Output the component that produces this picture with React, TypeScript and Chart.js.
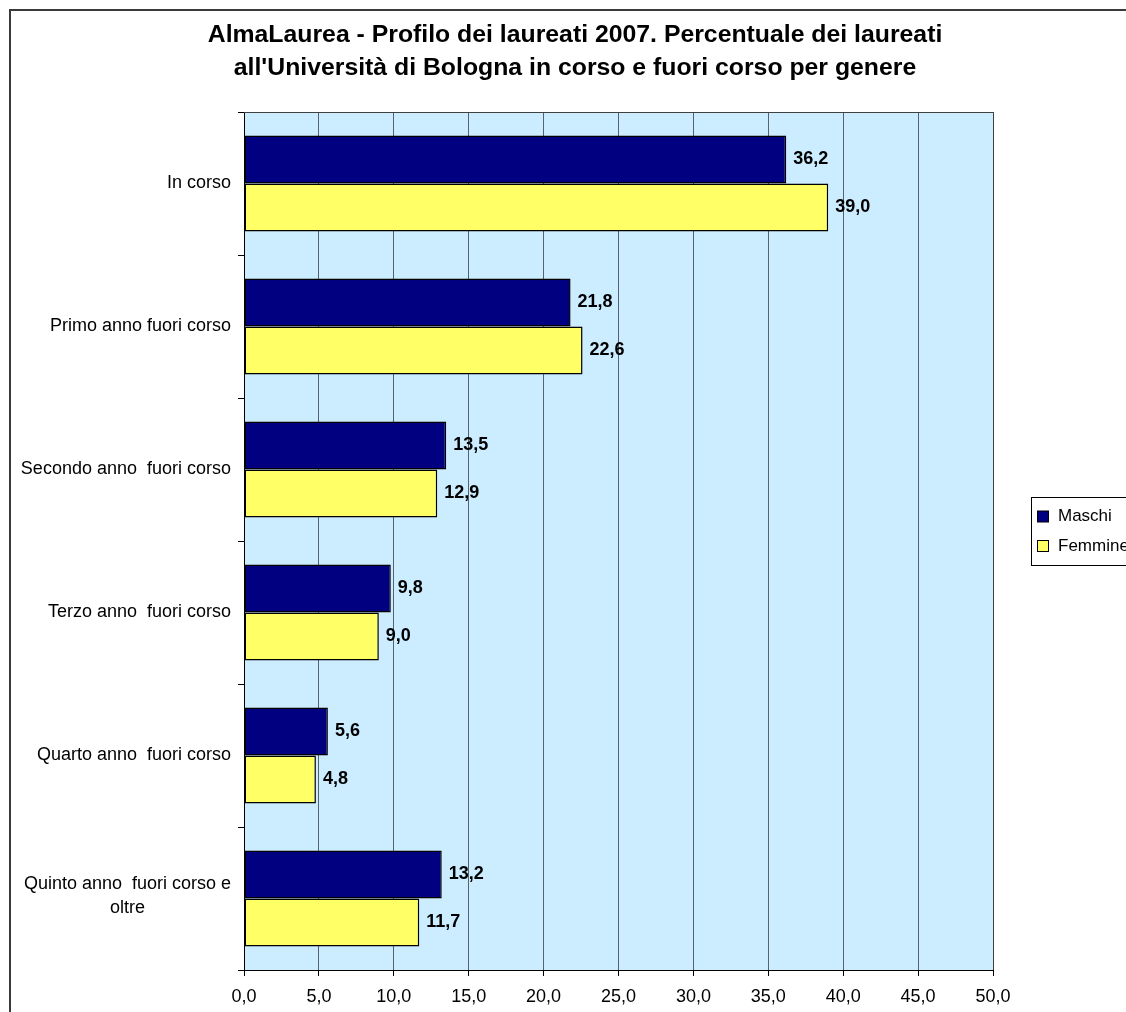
import React, { useEffect, useRef } from 'react';
import { Chart, registerables } from 'chart.js';

Chart.register(...registerables);

// Categories (multi-line labels are arrays of lines)
const categories: string[][] = [
  ['In corso'],
  ['Primo anno fuori corso'],
  ['Secondo anno  fuori corso'],
  ['Terzo anno  fuori corso'],
  ['Quarto anno  fuori corso'],
  ['Quinto anno  fuori corso e', 'oltre'],
];

const seriesNames = ['Maschi', 'Femmine'];
const maschi = [36.2, 21.8, 13.5, 9.8, 5.6, 13.2];
const femmine = [39.0, 22.6, 12.9, 9.0, 4.8, 11.7];

const xMin = 0;
const xMax = 50;
const xStep = 5;

const titleLines = [
  'AlmaLaurea - Profilo dei laureati 2007. Percentuale dei laureati',
  "all'Università di Bologna in corso e fuori corso per genere",
];

const FONT = "'Liberation Sans', Arial, sans-serif";
const fmt = (v: number) => v.toFixed(1).replace('.', ',');

const decorPlugin = {
  id: 'decor',
  beforeDraw(chart: any) {
    const { ctx, chartArea: a } = chart;
    ctx.save();
    ctx.fillStyle = '#ffffff';
    ctx.fillRect(0, 0, chart.width, chart.height);
    // outer frame of the chart
    ctx.strokeStyle = '#3a3a3a';
    ctx.lineWidth = 2;
    ctx.strokeRect(10, 10, chart.width + 100, chart.height + 100);
    // plot area background
    ctx.fillStyle = '#CCECFF';
    ctx.fillRect(a.left, a.top, a.right - a.left, a.bottom - a.top);
    ctx.restore();
  },
  afterDraw(chart: any) {
    const { ctx, chartArea: a } = chart;
    ctx.save();

    // plot area frame: top and right edges
    ctx.strokeStyle = '#404040';
    ctx.lineWidth = 1;
    ctx.beginPath();
    ctx.moveTo(a.left, a.top + 0.5);
    ctx.lineTo(a.right + 0.5, a.top + 0.5);
    ctx.lineTo(a.right + 0.5, a.bottom);
    ctx.stroke();

    // category labels: right aligned, lines of one label centred on each other
    const yScale = chart.scales.y;
    ctx.font = `18px ${FONT}`;
    ctx.fillStyle = '#000';
    ctx.textBaseline = 'middle';
    ctx.textAlign = 'center';
    const rightEdge = a.left - 13;
    const lineH = 24;
    categories.forEach((lines, i) => {
      const cy = yScale.getPixelForTick(i);
      const w = Math.max(...lines.map((l) => ctx.measureText(l).width));
      const cx = rightEdge - w / 2;
      lines.forEach((line, k) => {
        const off = lines.length > 1 ? (k - (lines.length - 1) / 2) * lineH - 2 : 0;
        ctx.fillText(line, cx, cy + off);
      });
    });

    // value labels next to bars
    ctx.font = `bold 18px ${FONT}`;
    ctx.textAlign = 'left';
    chart.data.datasets.forEach((ds: any, di: number) => {
      const meta = chart.getDatasetMeta(di);
      meta.data.forEach((bar: any, j: number) => {
        ctx.fillText(fmt(ds.data[j]), bar.x + 7, bar.y);
      });
    });

    // legend
    const lx = 1031.5;
    const ly = 497.5;
    ctx.strokeStyle = '#000';
    ctx.lineWidth = 1;
    ctx.fillStyle = '#fff';
    ctx.fillRect(lx, ly, 200, 68);
    ctx.strokeRect(lx, ly, 200, 68);
    ctx.font = `17px ${FONT}`;
    chart.data.datasets.forEach((ds: any, di: number) => {
      const cy = 516.5 + di * 29.5;
      ctx.fillStyle = ds.backgroundColor;
      ctx.fillRect(lx + 6, cy - 5.5, 11, 11);
      ctx.strokeRect(lx + 6, cy - 5.5, 11, 11);
      ctx.fillStyle = '#000';
      ctx.fillText(ds.label, lx + 26.5, cy);
    });

    ctx.restore();
  },
};

export default function App() {
  const canvasRef = useRef<HTMLCanvasElement | null>(null);

  useEffect(() => {
    const canvas = canvasRef.current;
    if (!canvas) return;
    const chart = new Chart(canvas, {
      type: 'bar',
      data: {
        labels: categories,
        datasets: [
          {
            label: seriesNames[0],
            data: maschi,
            backgroundColor: '#000080',
            borderColor: '#000000',
            borderWidth: 1.5,
            borderSkipped: false,
            categoryPercentage: 0.671,
            barPercentage: 1,
          },
          {
            label: seriesNames[1],
            data: femmine,
            backgroundColor: '#FFFF66',
            borderColor: '#000000',
            borderWidth: 1.5,
            borderSkipped: false,
            categoryPercentage: 0.671,
            barPercentage: 1,
          },
        ],
      },
      options: {
        indexAxis: 'y',
        responsive: false,
        animation: false,
        devicePixelRatio: 1,
        layout: { padding: { left: 157, right: 133, top: 0, bottom: 0 } },
        plugins: {
          legend: { display: false },
          tooltip: { enabled: false },
          title: {
            display: true,
            text: titleLines,
            color: '#000',
            font: { family: FONT, size: 24.8, weight: 'bold', lineHeight: 33 / 24.8 },
            padding: { top: 19, bottom: 27 },
          },
        },
        scales: {
          x: {
            type: 'linear',
            min: xMin,
            max: xMax,
            afterFit: (s: any) => {
              s.height = 42;
            },
            ticks: {
              stepSize: xStep,
              color: '#000',
              padding: 10,
              font: { family: FONT, size: 18 },
              callback: (v: any) => fmt(Number(v)),
            },
            grid: {
              color: '#56626e',
              lineWidth: 1,
              tickColor: '#000',
              tickLength: 6,
            },
            border: { color: '#000', width: 1 },
          },
          y: {
            type: 'category',
            afterFit: (s: any) => {
              s.width = 87;
            },
            ticks: { display: false },
            grid: {
              drawOnChartArea: false,
              drawTicks: true,
              color: '#000',
              tickLength: 6,
              offset: true,
            },
            border: { color: '#000', width: 1 },
          },
        },
      },
      plugins: [decorPlugin],
    });
    return () => chart.destroy();
  }, []);

  return (
    <div style={{ position: 'absolute', left: 0, top: 0, width: 1126, height: 1012 }}>
      <canvas ref={canvasRef} width={1126} height={1012} />
    </div>
  );
}
